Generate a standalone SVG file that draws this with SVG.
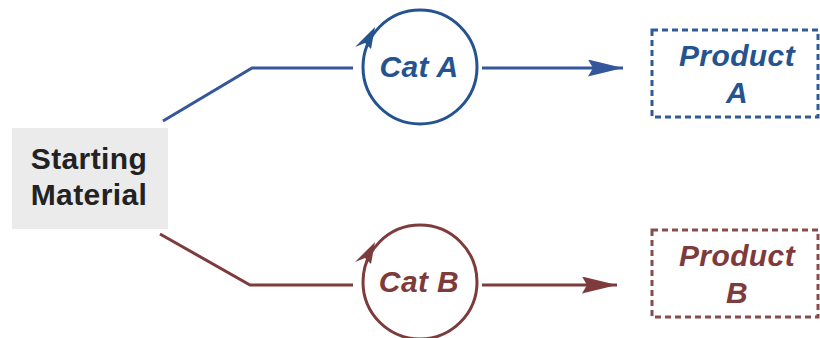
<svg xmlns="http://www.w3.org/2000/svg" width="820" height="338" viewBox="0 0 820 338">
<defs>
<style>
.lbl{font-family:"Liberation Sans",Arial,sans-serif;font-weight:bold;text-anchor:middle;font-size:30px;letter-spacing:0.4px}
.it{font-style:italic}
.blue{fill:#24538f}
.red{fill:#7e3b3b}
.conn{fill:none;stroke-width:3}
</style>
<marker id="arrB" markerUnits="userSpaceOnUse" markerWidth="36" markerHeight="18" refX="35" refY="8.5" orient="auto">
<path d="M0,0 L35,8.5 L0,17 L5,8.5 Z" fill="#34569a"/>
</marker>
<marker id="arrR" markerUnits="userSpaceOnUse" markerWidth="36" markerHeight="18" refX="35" refY="8.5" orient="auto">
<path d="M0,0 L35,8.5 L0,17 L5,8.5 Z" fill="#7e3b3b"/>
</marker>
</defs>
<rect width="820" height="338" fill="#ffffff"/>
<g id="connectors">
<polyline class="conn" points="163,121 252,68 353,68" stroke="#34569a"/>
<line class="conn" x1="482" y1="68" x2="623" y2="68" stroke="#34569a" marker-end="url(#arrB)"/>
<polyline class="conn" points="160,234 250,285 353,285" stroke="#7e3b3b"/>
<line class="conn" x1="482" y1="285" x2="617" y2="285" stroke="#7e3b3b" marker-end="url(#arrR)"/>
</g>
<g id="start">
<rect x="12" y="128" width="156" height="101" fill="#ebebeb"/>
<text class="lbl" x="89" y="169" fill="#222222">Starting</text>
<text class="lbl" x="89" y="205" fill="#222222">Material</text>
</g>
<g id="catA">
<circle cx="420" cy="67" r="57" fill="#ffffff" stroke="#24538f" stroke-width="3"/>
<path d="M375,27 L371,49 L365,43 L355,47 Z" fill="#24538f"/>
<text class="lbl it blue" x="419" y="77">Cat A</text>
</g>
<g id="catB">
<circle cx="420" cy="282" r="57" fill="#ffffff" stroke="#7e3b3b" stroke-width="3"/>
<path d="M375,242 L371,264 L365,258 L355,262 Z" fill="#7e3b3b"/>
<text class="lbl it red" x="419" y="292">Cat B</text>
</g>
<g id="productA">
<rect x="652" y="30" width="166" height="87" fill="none" stroke="#2f5b9b" stroke-width="3" stroke-dasharray="6,4"/>
<text class="lbl it blue" x="737" y="66">Product</text>
<text class="lbl it blue" x="737" y="103">A</text>
</g>
<g id="productB">
<rect x="652" y="230" width="166" height="87" fill="none" stroke="#8a4b4b" stroke-width="3" stroke-dasharray="6,4"/>
<text class="lbl it red" x="737" y="266">Product</text>
<text class="lbl it red" x="737" y="303">B</text>
</g>
</svg>
